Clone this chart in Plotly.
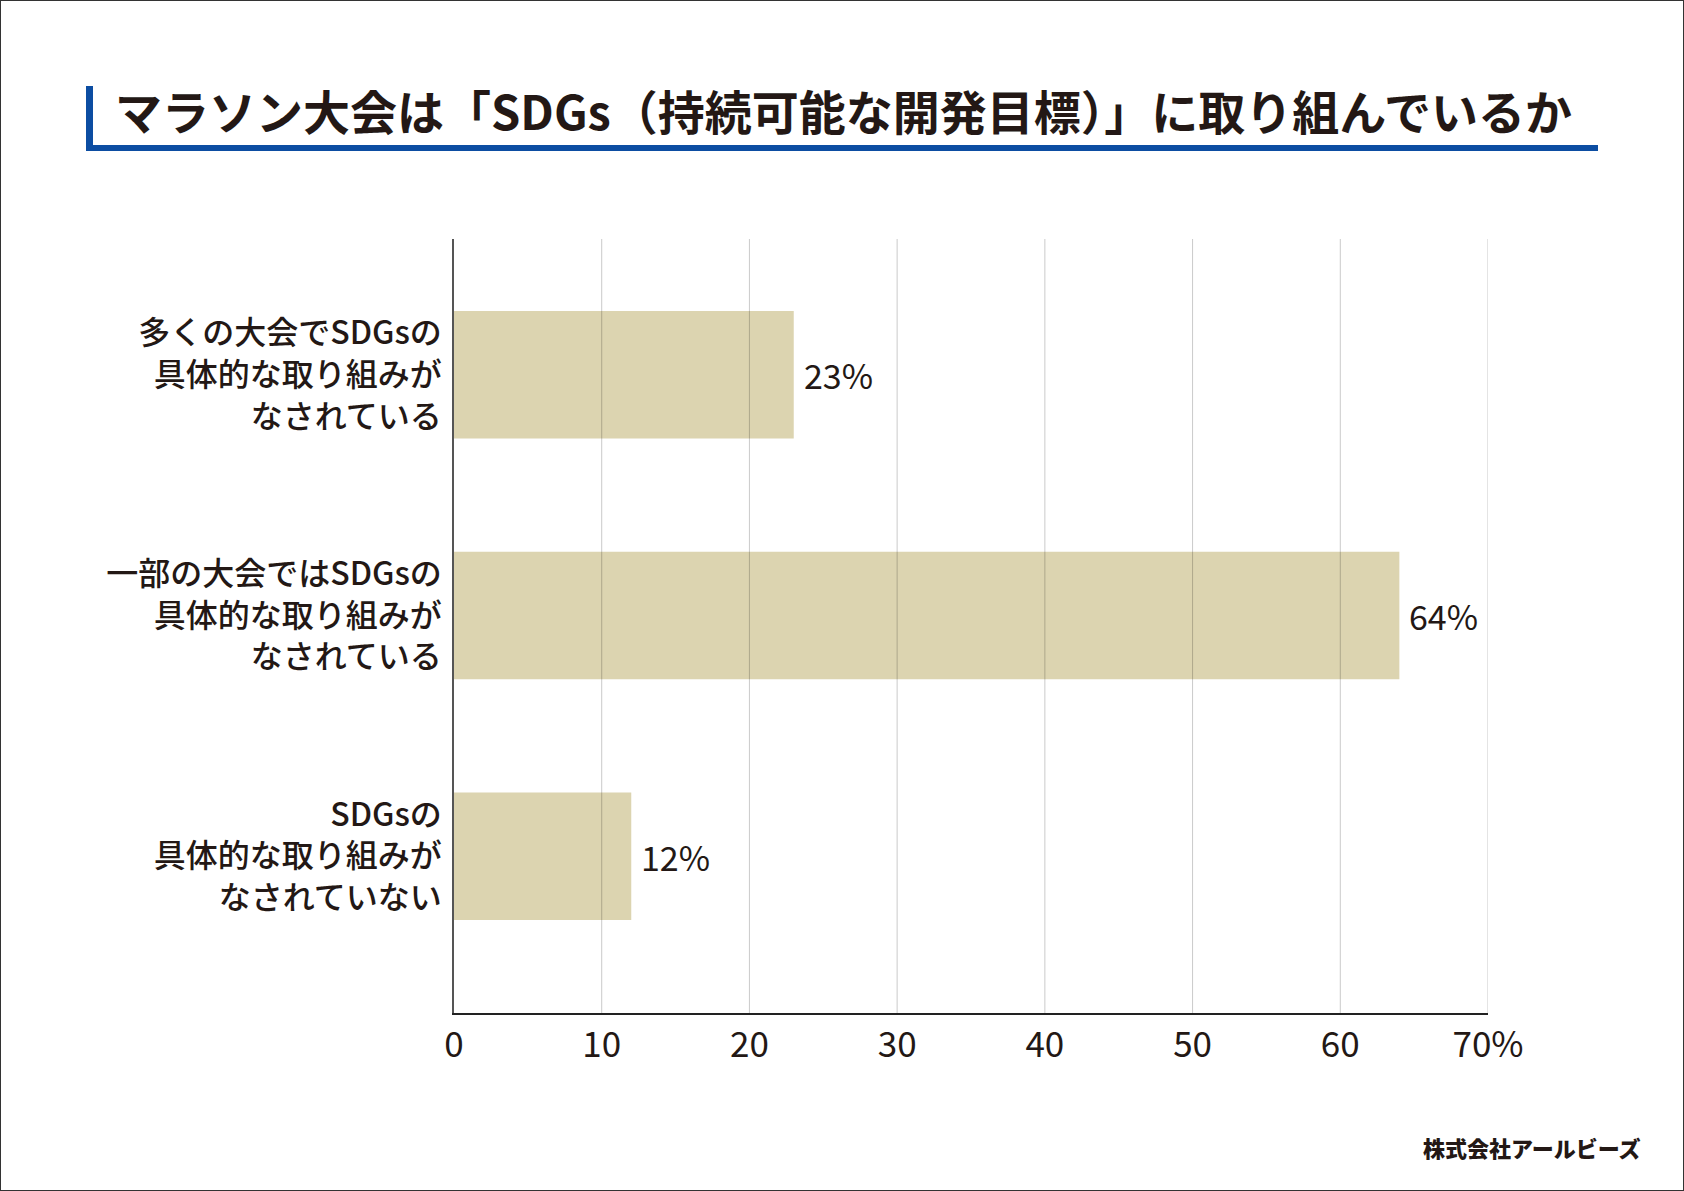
import plotly.graph_objects as go

W, H = 1684, 1191

title_text = "マラソン大会は「SDGs（持続可能な開発目標）」に取り組んでいるか"
categories = [
    "多くの大会でSDGsの<br>具体的な取り組みが<br>なされている",
    "一部の大会ではSDGsの<br>具体的な取り組みが<br>なされている",
    "SDGsの<br>具体的な取り組みが<br>なされていない",
]
values = [23, 64, 12]
tick_vals = [0, 10, 20, 30, 40, 50, 60, 70]
tick_text = ["0", "10", "20", "30", "40", "50", "60", "70%"]
credit = "株式会社アールビーズ"

FONT = "Noto Sans CJK JP"
INK = "#231815"
BAR = "#DCD4B0"
BLUE = "#0C4DA2"

fig = go.Figure()
fig.add_trace(go.Bar(
    x=values, y=categories, orientation="h",
    marker=dict(color=BAR, line=dict(width=0)),
    width=0.53, hoverinfo="skip",
))

# value labels
for c, v in zip(categories, values):
    fig.add_annotation(x=v, y=c, xref="x", yref="y", text=f"{v}%",
                       showarrow=False, xanchor="left", yanchor="middle",
                       xshift=8, font=dict(family=FONT, size=34, color=INK))

x0, x1 = 454 / W, 1488 / W
y_top, y_bot = 1 - 239 / H, 1 - 1013 / H

shapes = []
# gridlines drawn above bars
for t in tick_vals[1:]:
    shapes.append(dict(type="line", xref="x", yref="paper", x0=t, x1=t,
                       y0=y_bot, y1=y_top, layer="above",
                       line=dict(color="rgba(0,0,0,0.21)", width=1)))
# outer frame
shapes.append(dict(type="rect", xref="paper", yref="paper", x0=0, x1=1, y0=0, y1=1,
                   line=dict(color="#333333", width=2), layer="above"))
# title decorations
shapes.append(dict(type="rect", xref="paper", yref="paper",
                   x0=86 / W, x1=93 / W, y0=1 - 151 / H, y1=1 - 86 / H,
                   fillcolor=BLUE, line=dict(width=0)))
shapes.append(dict(type="rect", xref="paper", yref="paper",
                   x0=86 / W, x1=1598 / W, y0=1 - 151 / H, y1=1 - 145 / H,
                   fillcolor=BLUE, line=dict(width=0)))

fig.add_annotation(x=113 / W, y=1 - 110 / H, xref="paper", yref="paper",
                   text=title_text, showarrow=False, xanchor="left", yanchor="middle",
                   font=dict(family=FONT, size=47, color=INK, weight=700))
fig.add_annotation(x=1643 / W, y=1 - 1147 / H, xref="paper", yref="paper",
                   text=credit, showarrow=False, xanchor="right", yanchor="middle",
                   font=dict(family=FONT, size=22, color=INK, weight=900))

fig.update_layout(
    width=W, height=H,
    margin=dict(l=0, r=0, t=0, b=0),
    paper_bgcolor="white", plot_bgcolor="white",
    showlegend=False,
    shapes=shapes,
    xaxis=dict(domain=[x0, x1], range=[0, 70], tickvals=tick_vals, ticktext=tick_text,
               showgrid=False, zeroline=False, showline=True, linecolor="#222222",
               linewidth=2, ticks="", ticklabelstandoff=0, automargin=False,
               tickfont=dict(family=FONT, size=35, color=INK)),
    yaxis=dict(domain=[y_bot, y_top], range=[2.651, -0.564], showgrid=False,
               zeroline=False, showline=True, linecolor="#555555", linewidth=1.5,
               ticks="", ticklabelstandoff=4, automargin=False,
               tickfont=dict(family=FONT, size=32, color=INK, weight=500)),
)

fig.write_html("out.html")
